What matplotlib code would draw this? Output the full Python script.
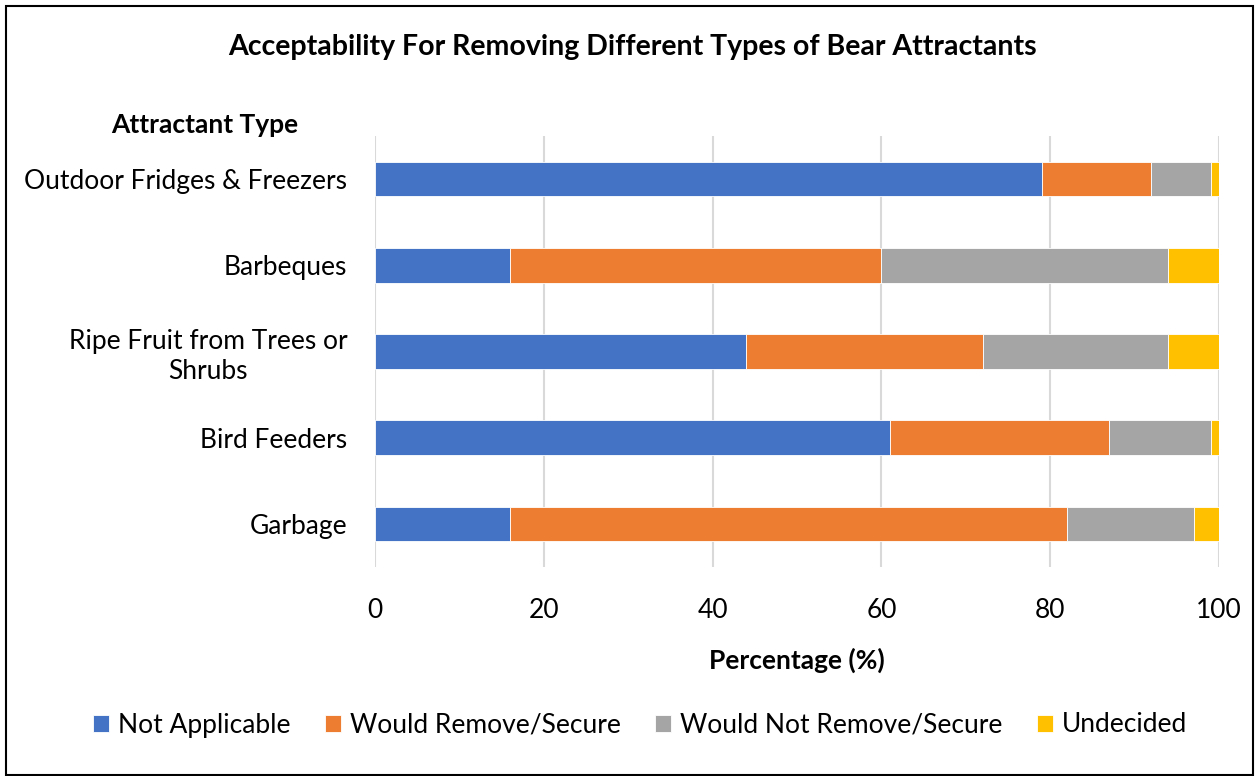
import matplotlib
matplotlib.use("Agg")
import matplotlib.pyplot as plt
from matplotlib.patches import Rectangle

categories = ["Outdoor Fridges & Freezers", "Barbeques", "Ripe Fruit from Trees or\nShrubs",
              "Bird Feeders", "Garbage"]
series_names = ["Not Applicable", "Would Remove/Secure", "Would Not Remove/Secure", "Undecided"]
not_applicable = [79, 16, 44, 61, 16]
would_remove = [13, 44, 28, 26, 66]
would_not_remove = [7, 34, 22, 12, 15]
undecided = [1, 6, 6, 1.3, 3.3]
colors = ["#4472C4", "#ED7D31", "#A5A5A5", "#FFC000"]
x_ticks = [0, 20, 40, 60, 80, 100]

plt.rcParams['font.family'] = ['Lato', 'DejaVu Sans']
FS = 19

fig = plt.figure(figsize=(12.55, 7.76), dpi=100)
ax = fig.add_axes([375/1255, 1-567/776, (1219-375)/1255, (567-136)/776])

ypos = list(range(len(categories)))
left = [0]*len(categories)
for name, vals, c in zip(series_names, [not_applicable, would_remove, would_not_remove, undecided], colors):
    ax.barh(ypos, vals, left=left, height=0.4, color=c, label=name, edgecolor='white', linewidth=0.6, zorder=3)
    left = [l+v for l, v in zip(left, vals)]

ax.set_ylim(len(categories)-0.5, -0.5)
ax.set_xlim(0, 100)
ax.set_yticks(ypos)
ax.set_yticklabels(categories, fontsize=FS, multialignment='center', linespacing=1.25)
ax.set_xticks(x_ticks)
ax.set_xticklabels([str(t) for t in x_ticks], fontsize=FS)
ax.tick_params(axis='y', length=0, pad=20)
ax.tick_params(axis='x', length=0, pad=22)
for s in ax.spines.values():
    s.set_visible(False)
ax.grid(axis='x', color='#D9D9D9', linewidth=1.5, zorder=0)
ax.set_axisbelow(True)

fig.text(632/1255, 1-47/776, "Acceptability For Removing Different Types of Bear Attractants",
         ha='center', va='center', fontsize=20.5, fontweight='bold')
fig.text(205/1255, 1-125/776, "Attractant Type", ha='center', va='center', fontsize=FS, fontweight='bold')
fig.text(797/1255, 1-660/776, "Percentage (%)", ha='center', va='center', fontsize=FS, fontweight='bold')

handles, labels = ax.get_legend_handles_labels()
fig.legend(handles, labels, loc='center', bbox_to_anchor=(640/1255, 1-725/776), ncol=4, frameon=False,
           fontsize=FS, handlelength=0.6, handleheight=0.6, handletextpad=0.35, columnspacing=1.3)

fig.patches.append(Rectangle((6/1255, 1/776), 1247/1255, 769/776, transform=fig.transFigure,
                             fill=False, edgecolor='black', linewidth=1.5))

fig.savefig("out.png", dpi=100)
